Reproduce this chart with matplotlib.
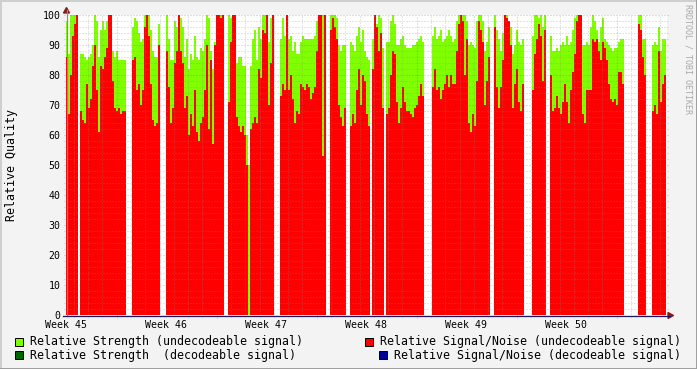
import numpy as np
import matplotlib
matplotlib.use('Agg')
import matplotlib.pyplot as plt
from matplotlib.patches import Rectangle, Polygon
from matplotlib.lines import Line2D

n = np.nan

# relative strength (undecodeable signal), one value per 2px column
strength = [98, 87, 100, 100, 100, 100, n, 87, 87, 86,
            85, 86, 87, 90, 100, 98, 86, 95, 98, 95,
            98, 100, 100, 88, 86, 88, 85, 85, 85, 85,
            n, n, n, 96, 99, 98, 94, 91, 92, 100,
            100, 100, 95, 88, 86, 86, 97, n, n, n,
            100, 92, 85, 85, 98, 96, 100, 99, 96, 86,
            92, 82, 87, 85, 93, 86, 85, 89, 88, 92,
            100, 99, 88, 82, 91, 100, 100, 100, 100, n,
            n, 100, 99, 100, 100, 84, 86, 86, 83, 83,
            60, 50, 83, 92, 95, 85, 96, 92, 100, 100,
            100, 91, 99, 100, n, n, n, 92, 99, 93,
            100, 92, 93, 88, 91, 87, 87, 91, 93, 92,
            92, 92, 92, 92, 93, 98, 100, 100, 100, 100,
            n, n, 100, 100, 100, 99, 90, 88, 90, 90,
            n, n, 91, 90, 88, 93, 96, 91, 95, 88,
            86, 85, n, 92, 100, 97, 100, 99, 89, n,
            91, 91, 98, 100, 97, 90, 90, 92, 93, 90,
            89, 89, 89, 90, 90, 91, 92, 93, 91, n,
            n, n, n, 93, 96, 92, 93, 95, 91, 92,
            93, 95, 93, 91, 92, 98, 100, 100, 100, 100,
            98, 90, 91, 90, 89, 98, 100, 100, 98, 88,
            91, 96, n, n, 100, 95, 92, 88, 94, 100,
            100, 98, 96, 87, 90, 95, 91, 90, 92, n,
            n, n, n, 93, 100, 100, 99, 100, 96, 100,
            n, n, 93, 88, 88, 89, 88, 90, 91, 90,
            93, 90, 91, 95, 99, 100, 100, 100, 90, 90,
            91, 90, 96, 100, 98, 95, 91, 96, 99, 92,
            91, 90, 89, 88, 89, 89, 91, 92, 92, n,
            n, n, n, n, n, n, 100, 100, 92, 92,
            n, n, n, 90, 91, 90, 96, 88, 92, 92]

# relative signal/noise (undecodeable signal)
snr = [86, 67, 80, 93, 97, 100, n, 68, 65, 64,
       77, 69, 72, 83, 90, 75, 61, 83, 82, 86,
       89, 100, 100, 78, 69, 68, 69, 67, 68, 68,
       n, n, n, 85, 86, 75, 77, 70, 75, 96,
       100, 93, 77, 65, 63, 64, 90, n, n, n,
       88, 76, 64, 69, 84, 88, 100, 88, 84, 69,
       73, 60, 67, 63, 75, 61, 58, 64, 66, 75,
       90, 62, 85, 57, 90, 100, 100, 99, 100, n,
       n, 71, 91, 100, 100, 66, 63, 61, 63, 60,
       50, 0, 62, 64, 66, 64, 82, 79, 95, 94,
       100, 70, 84, 100, n, n, n, 73, 77, 75,
       100, 75, 80, 72, 64, 68, 67, 77, 76, 75,
       77, 76, 72, 74, 76, 88, 100, 100, 53, 100,
       n, n, 95, 99, 96, 92, 70, 66, 63, 69,
       n, n, 63, 67, 64, 75, 82, 70, 80, 78,
       67, 63, n, 82, 100, 96, 88, 94, 69, n,
       67, 69, 80, 88, 87, 71, 64, 69, 76, 71,
       68, 68, 67, 66, 69, 70, 73, 77, 73, n,
       n, n, n, 76, 82, 75, 76, 72, 75, 77,
       80, 76, 80, 77, 77, 88, 97, 100, 98, 80,
       92, 64, 61, 67, 63, 78, 98, 95, 91, 70,
       78, 86, n, n, 96, 76, 69, 76, 85, 100,
       99, 98, 90, 69, 77, 82, 71, 68, 77, n,
       n, n, n, 75, 87, 92, 97, 93, 78, 95,
       n, n, 80, 68, 69, 73, 69, 67, 71, 77,
       71, 64, 75, 81, 87, 98, 100, 100, 67, 64,
       75, 75, 75, 92, 91, 92, 88, 85, 91, 89,
       85, 77, 72, 71, 72, 70, 81, 81, 77, n,
       n, n, n, n, n, n, 97, 95, 86, 80,
       n, n, n, 68, 70, 67, 88, 71, 77, 80]

week_labels = ['Week 45', 'Week 46', 'Week 47', 'Week 48', 'Week 49', 'Week 50']
week_days = [0, 7, 14, 21, 28, 35]
step_days = 0.14      # one sample every 0.14 day
span_days = 42.07
t = np.arange(len(snr)) * step_days

W, H = 697, 369
def fx(x): return x / W
def fy(y): return 1 - y / H

mono = 'DejaVu Sans Mono'
fig = plt.figure(figsize=(W / 100, H / 100), dpi=100, facecolor='#F3F3F3')
ax = fig.add_axes([fx(66), fy(315), 601 / W, 300 / H])
ax.set_facecolor('white')

ax.bar(t, strength, width=step_days, align='edge', color='#80FF00',
       linewidth=0, antialiased=False, zorder=2)
ax.bar(t, snr, width=step_days, align='edge', color='#FF0000',
       linewidth=0, antialiased=False, zorder=3)

ax.set_xlim(0, span_days)
ax.set_ylim(0, 100)

# grid drawn over the data, rrdtool style (extends 2px past the axes)
px_x = span_days / 601
px_y = 100 / 300
grid = (0.55, 0.55, 0.55, 0.45)
mgrid = (1.0, 0.0, 0.0, 0.35)
dots = (0, (1, 2))
major_days = np.arange(3.55, span_days, 7)
minor_days = np.arange(0.55, span_days, 1)
for d in minor_days:
    if np.min(np.abs(major_days - d)) > 0.1:
        ax.plot([d, d], [-2 * px_y, 100], color=grid, lw=0.72, ls=dots,
                zorder=4, clip_on=False)
for d in major_days:
    ax.plot([d, d], [-3 * px_y, 100], color=mgrid, lw=0.72, ls=dots,
            zorder=4, clip_on=False)
for v in range(2, 101, 2):
    c = mgrid if v % 10 == 0 else grid
    ax.plot([-2 * px_x, span_days + 2 * px_x], [v, v], color=c, lw=0.72,
            ls=dots, zorder=4, clip_on=False)

for s in ax.spines.values():
    s.set_visible(False)
ax.set_xticks(week_days, week_labels)
ax.set_yticks(range(0, 101, 10))
ax.tick_params(length=0, labelsize=7.1)
ax.tick_params(axis='x', pad=3.6)
ax.tick_params(axis='y', pad=4.0)
for lab in ax.get_xticklabels() + ax.get_yticklabels():
    lab.set_fontfamily(mono)

# axes and arrows
fig.add_artist(Line2D([fx(66.5), fx(66.5)], [fy(315), fy(10)], color='#8C8C8C', lw=0.9))
fig.add_artist(Line2D([fx(63), fx(670)], [fy(315.5), fy(315.5)], color='#1A1A60', lw=0.9))
arrow_col = '#8B1A1A'
fig.add_artist(Polygon([[fx(63.5), fy(13)], [fx(69.5), fy(13)], [fx(66.5), fy(7.5)]],
                       closed=True, color=arrow_col, transform=fig.transFigure))
fig.add_artist(Polygon([[fx(668), fy(312.5)], [fx(668), fy(318.5)], [fx(673.5), fy(315.5)]],
                       closed=True, color=arrow_col, transform=fig.transFigure))

fig.text(fx(12), fy(165), 'Relative Quality', rotation=90, ha='center',
         va='center', family=mono, size=8.4)
fig.text(fx(688), fy(4), 'RRDTOOL / TOBI OETIKER', rotation=270, ha='center',
         va='top', family=mono, size=6, color='#A8A8A8')

# legend
legend = [('#80FF00', 'Relative Strength (undecodeable signal)', 15, 341.5),
          ('#006600', 'Relative Strength  (decodeable signal)', 15, 355),
          ('#FF0000', 'Relative Signal/Noise (undecodeable signal)', 365, 341.5),
          ('#000099', 'Relative Signal/Noise (decodeable signal)', 379, 355)]
for col, txt, x0, yc in legend:
    fig.add_artist(Rectangle((fx(x0), fy(yc + 4)), 8 / W, 8 / H, facecolor=col,
                             edgecolor='black', lw=0.7, transform=fig.transFigure))
    fig.text(fx(x0 + 15), fy(yc), txt, ha='left', va='center', family=mono, size=8.4)

# frame shading
fig.add_artist(Line2D([0, 1], [fy(0.5), fy(0.5)], color='#CFCFCF', lw=1.4))
fig.add_artist(Line2D([fx(0.5), fx(0.5)], [0, 1], color='#CFCFCF', lw=1.4))
fig.add_artist(Line2D([0, 1], [fy(368.5), fy(368.5)], color='#9E9E9E', lw=1.4))
fig.add_artist(Line2D([fx(696.5), fx(696.5)], [0, 1], color='#9E9E9E', lw=1.4))

fig.savefig('out.png', dpi=100, facecolor=fig.get_facecolor())
